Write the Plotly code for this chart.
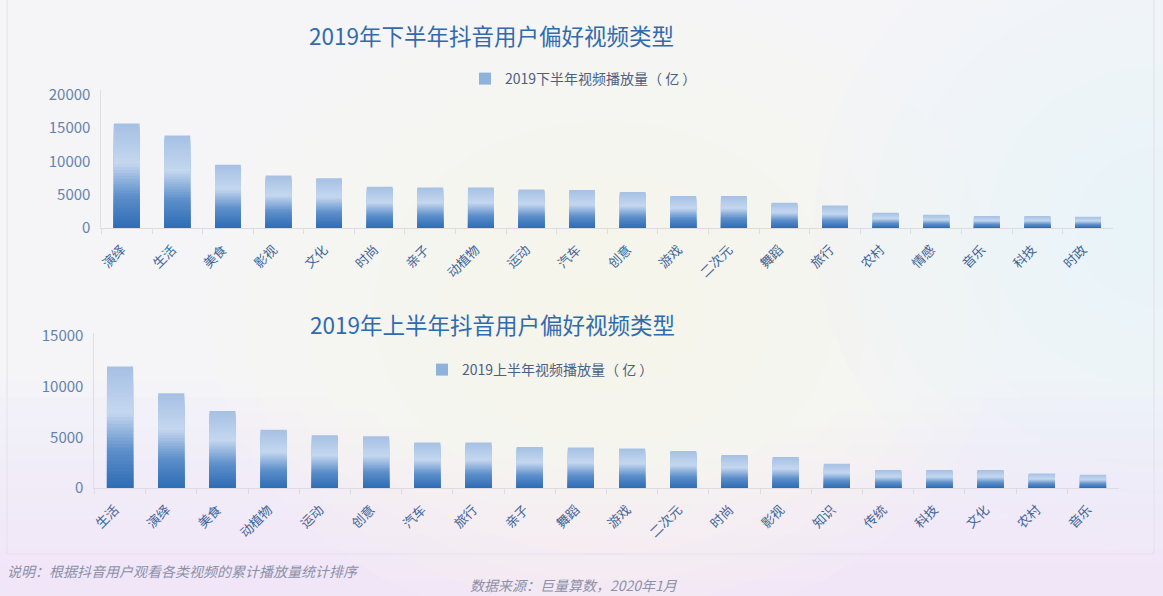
import plotly.graph_objects as go

# ---------------- data ----------------
cats_h2 = ["演绎", "生活", "美食", "影视", "文化", "时尚", "亲子", "动植物", "运动", "汽车",
           "创意", "游戏", "二次元", "舞蹈", "旅行", "农村", "情感", "音乐", "科技", "时政"]
vals_h2 = [15700, 13900, 9500, 7900, 7500, 6200, 6100, 6100, 5800, 5700,
           5400, 4800, 4800, 3800, 3400, 2300, 2000, 1800, 1800, 1700]

cats_h1 = ["生活", "演绎", "美食", "动植物", "运动", "创意", "汽车", "旅行", "亲子", "舞蹈",
           "游戏", "二次元", "时尚", "影视", "知识", "传统", "科技", "文化", "农村", "音乐"]
vals_h1 = [12000, 9350, 7600, 5750, 5200, 5100, 4500, 4500, 4050, 4000,
           3900, 3650, 3250, 3050, 2400, 1780, 1780, 1780, 1420, 1320]

title_h2 = "2019年下半年抖音用户偏好视频类型"
title_h1 = "2019年上半年抖音用户偏好视频类型"
series_h2 = "2019下半年视频播放量（ 亿 ）"
series_h1 = "2019上半年视频播放量（ 亿 ）"
note_text = "说明：根据抖音用户观看各类视频的累计播放量统计排序"
source_text = "数据来源：巨量算数，2020年1月"
yticks_h2 = [0, 5000, 10000, 15000, 20000]
yticks_h1 = [0, 5000, 10000, 15000]

FONT = "Noto Sans CJK SC"
W, H = 1163, 596

# gradient stops (bottom -> top of each bar)
stops = [(0.0, (45, 108, 180)), (0.30, (92, 142, 202)),
         (0.62, (196, 215, 239)), (1.0, (166, 192, 228))]


def grad(t):
    for (t0, c0), (t1, c1) in zip(stops[:-1], stops[1:]):
        if t <= t1:
            f = (t - t0) / (t1 - t0)
            return "rgb(%d,%d,%d)" % tuple(round(a + (b - a) * f) for a, b in zip(c0, c1))
    return "rgb(%d,%d,%d)" % stops[-1][1]


N = 36
fig = go.Figure()


def add_gradient_bars(cats, vals, xa, ya, name, legend):
    for k in range(N):
        frac = (N - k) / N
        t = (N - k - 0.5) / N
        fig.add_trace(go.Bar(
            x=cats, y=[v * frac for v in vals],
            marker=dict(color=grad(t), line=dict(width=0)),
            width=0.51, xaxis=xa, yaxis=ya,
            name=name, legend=legend, legendgroup=legend,
            showlegend=(k == int(N * 0.55)),
            hoverinfo="skip" if k else "x+y",
        ))


add_gradient_bars(cats_h2, vals_h2, "x", "y", series_h2, "legend")
add_gradient_bars(cats_h1, vals_h1, "x2", "y2", series_h1, "legend2")


def px_x(p):
    return p / W


def px_y(p):
    return 1 - p / H


axis_common = dict(showgrid=False, zeroline=False, fixedrange=True, automargin=False)
xcommon = dict(axis_common, showline=True, linecolor="#DCDCE2", linewidth=1,
               ticks="outside", tickson="boundaries", ticklen=5, tickcolor="#DCDCE2",
               tickangle=-45, ticklabelshift=-5, ticklabelstandoff=8,
               tickfont=dict(family=FONT, size=13, color="#3F6597"))
ycommon = dict(axis_common, showline=True, linecolor="#DEDEE4", linewidth=1,
               ticks="", tickformat="d", ticklabelstandoff=7,
               tickfont=dict(family=FONT, size=15, color="#6483AB"))

shapes = []
# soft background tints (layered translucent shapes approximate gradients)
for i in range(14):
    shapes.append(dict(type="rect", xref="paper", yref="paper", x0=0, x1=1,
                       y0=0, y1=0.36 * (14 - i) / 14, layer="below", line=dict(width=0),
                       fillcolor="rgba(240,226,248,0.07)"))
for i in range(12):
    r = 0.34 * (12 - i) / 12
    shapes.append(dict(type="circle", xref="paper", yref="paper",
                       x0=0.52 - r, x1=0.52 + r, y0=0.48 - r * 1.6, y1=0.48 + r * 1.6,
                       layer="below", line=dict(width=0),
                       fillcolor="rgba(253,252,236,0.09)"))
for i in range(12):
    r = 0.30 * (12 - i) / 12
    shapes.append(dict(type="circle", xref="paper", yref="paper",
                       x0=1.0 - r, x1=1.0 + r, y0=0.62 - r * 1.8, y1=0.62 + r * 1.8,
                       layer="below", line=dict(width=0),
                       fillcolor="rgba(228,243,250,0.09)"))
# faint frame
shapes.append(dict(type="rect", xref="paper", yref="paper", x0=px_x(7), x1=px_x(1154),
                   y0=px_y(554), y1=1.01, layer="below",
                   line=dict(color="#E3E1EA", width=1)))

fig.update_layout(
    width=W, height=H,
    margin=dict(l=0, r=0, t=0, b=0, autoexpand=False),
    paper_bgcolor="#F5F5F8",
    plot_bgcolor="rgba(0,0,0,0)",
    barmode="overlay",
    font=dict(family=FONT),
    xaxis=dict(xcommon, domain=[0.0872, 0.9573], anchor="y"),
    yaxis=dict(ycommon, domain=[0.6174, 0.8490], range=[0, 20750], tickvals=yticks_h2, anchor="x"),
    xaxis2=dict(xcommon, domain=[0.0812, 0.9618], anchor="y2"),
    yaxis2=dict(ycommon, domain=[0.1812, 0.4413], range=[0, 15300], tickvals=yticks_h1, anchor="x2"),
    legend=dict(x=px_x(465), y=px_y(79), xanchor="left", yanchor="middle",
                bgcolor="rgba(0,0,0,0)", font=dict(family=FONT, size=14, color="#4B5F82"),
                itemclick=False, itemdoubleclick=False),
    legend2=dict(x=px_x(422), y=px_y(370), xanchor="left", yanchor="middle",
                 bgcolor="rgba(0,0,0,0)", font=dict(family=FONT, size=14, color="#4B5F82"),
                 itemclick=False, itemdoubleclick=False),
    shapes=shapes,
    annotations=[
        dict(text=title_h2, xref="paper", yref="paper", x=px_x(491), y=px_y(35),
             xanchor="center", yanchor="middle", showarrow=False,
             font=dict(family=FONT, size=22.5, color="#2F6BAE")),
        dict(text=title_h1, xref="paper", yref="paper", x=px_x(492), y=px_y(324),
             xanchor="center", yanchor="middle", showarrow=False,
             font=dict(family=FONT, size=22.5, color="#2F6BAE")),
        dict(text="<i>" + note_text + "</i>", xref="paper", yref="paper", x=px_x(5), y=px_y(571),
             xanchor="left", yanchor="middle", showarrow=False,
             font=dict(family=FONT, size=14, color="#8C90A8")),
        dict(text="<i>" + source_text + "</i>", xref="paper", yref="paper", x=px_x(468), y=px_y(585),
             xanchor="left", yanchor="middle", showarrow=False,
             font=dict(family=FONT, size=14, color="#8C90A8")),
    ],
)

fig.write_html(
    "out.html",
    config={"displayModeBar": False},
    post_script=("document.body.style.margin='0';document.body.style.overflow='hidden';"
                 "document.body.style.background='#F5F5F8';"),
)
